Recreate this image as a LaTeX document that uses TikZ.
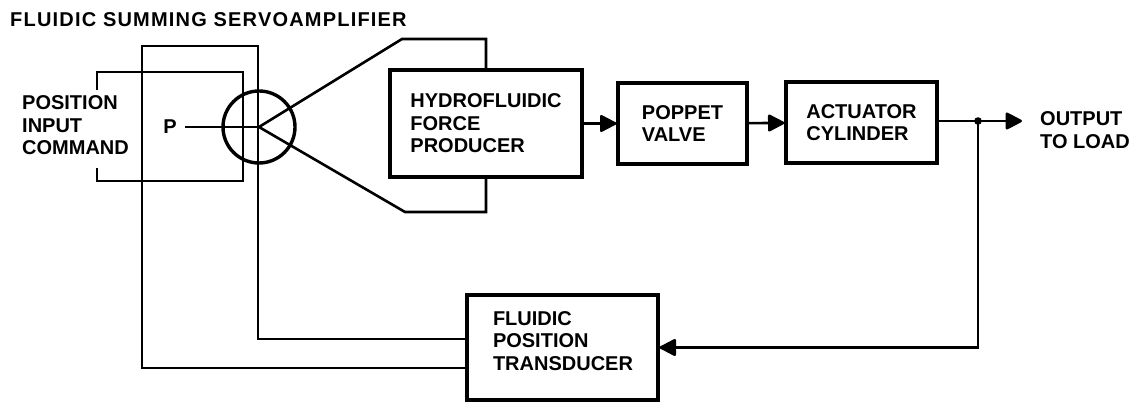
\documentclass[tikz,border=0pt]{standalone}
\usepackage{fontspec}
\setmainfont{Liberation Sans}
\usepackage{tikz}
\usetikzlibrary{arrows.meta,positioning,shapes.geometric}

\begin{document}
\begin{tikzpicture}[x=1pt, y=-1pt, >={Triangle[length=18pt,width=18pt,round]},
	every node/.style={font=\fontsize{20}{22.5}\selectfont\bfseries, inner sep=0pt},
	blk/.style={draw, line width=3.2pt, align=left},
	conn/.style={line width=2.6pt}]
		
		\useasboundingbox (0,0) rectangle (1143,403);
		
		% Nodes
		\node[anchor=west] (title) at (10,20) {\addfontfeature{LetterSpace=6}FLUIDIC SUMMING SERVOAMPLIFIER};
		\node[anchor=west, align=left] (cmd) at (22,125.5) {POSITION\\INPUT\\COMMAND};
		\node (p) at (170,127) {P};
		\node[draw, circle, line width=3.4pt, minimum size=72pt] (sum) at (259,127) {};
		
		\node[blk, minimum width=192pt, minimum height=107pt] (hydro) at (486,123.5) {HYDROFLUIDIC\\FORCE\\PRODUCER};
		\node[blk, minimum width=129pt, minimum height=81pt] (poppet) at (682.5,123.5) {POPPET\\VALVE};
		\node[blk, minimum width=151pt, minimum height=81pt] (act) at (861.5,122.5) {ACTUATOR\\CYLINDER};
		\node[anchor=west, align=left] (out) at (1040,130) {OUTPUT\\TO LOAD};
		
		\node[blk, minimum width=191pt, minimum height=105pt] (trans) at (562.5,347.5) {};
		\node[align=left] (translbl) at (563,341) {FLUIDIC\\POSITION\\TRANSDUCER};
		
		\coordinate (outend) at (1022,121);
		\fill (978,121) circle (3.8pt) coordinate (dot);
		
		% Lines
		\draw[conn] (97,90) -- (97,72) -- (243,72) -- (243,181) -- (97,181) -- (97,168);
		\draw[conn] (trans.west |- 0,368) -- (142,368) -- (142,46) -- (258,46) -- (258,339) -- (trans.west |- 0,339);
		\draw[conn] (p.east) ++(8,0) -- (sum.center);
		\draw[conn] (sum.center) -- (402,39) -- (hydro.north |- 0,39) -- (hydro.north);
		\draw[conn] (sum.center) -- (405,212) -- (hydro.south |- 0,212) -- (hydro.south);
		
		% Arrows
		\draw[conn, ->] (hydro) -- (poppet);
		\draw[conn, ->] (poppet) -- (act);
		\draw[conn, ->] (act.east |- dot) -- (outend);
		\draw[conn, ->] (dot) |- (trans.east);
		
	\end{tikzpicture}
\end{document}
